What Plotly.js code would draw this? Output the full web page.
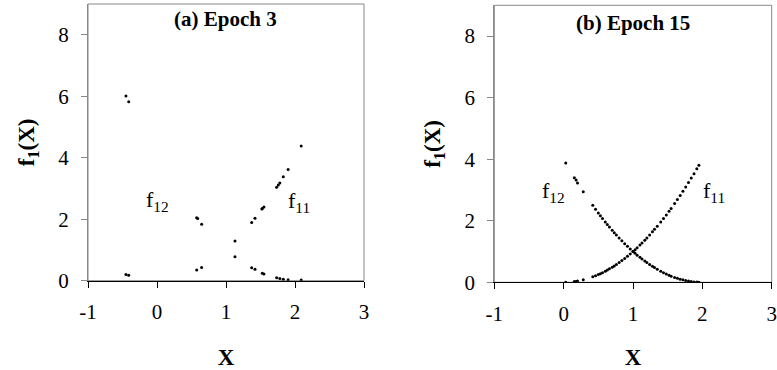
<!DOCTYPE html>
<html>
<head>
<meta charset="utf-8">
<script src="https://cdn.plot.ly/plotly-3.0.1.min.js"></script>
<style>html,body{margin:0;padding:0;background:#fff;}#chart{width:777px;height:370px;}</style>
</head>
<body>
<div id="chart"></div>
<script>
// Panel (a) Epoch 3
const a_x11 = [-0.45, -0.41, 0.575, 0.647, 1.13, 1.372, 1.42, 1.52, 1.526, 1.55, 1.734, 1.758, 1.78, 1.83, 1.90, 2.09];
const a_y11 = [0.20, 0.18, 0.35, 0.43, 0.78, 1.89, 2.03, 2.33, 2.35, 2.40, 3.04, 3.11, 3.18, 3.38, 3.62, 4.38];
const a_x12 = [-0.45, -0.41, 0.575, 0.59, 0.647, 1.13, 1.372, 1.42, 1.526, 1.55, 1.734, 1.78, 1.83, 1.90, 2.09];
const a_y12 = [6.01, 5.82, 2.05, 2.02, 1.84, 1.29, 0.42, 0.37, 0.24, 0.22, 0.10, 0.07, 0.05, 0.03, 0.02];

// Panel (b) Epoch 15
const b_x = [0.03, 0.154, 0.18, 0.20, 0.283, 0.42, 0.46, 0.50, 0.53, 0.56, 0.60, 0.63, 0.66, 0.70, 0.73, 0.76, 0.80, 0.84, 0.88, 0.92, 0.96, 1.00, 1.03, 1.06, 1.10, 1.13, 1.17, 1.20, 1.24, 1.28, 1.31, 1.35, 1.40, 1.44, 1.48, 1.52, 1.55, 1.60, 1.64, 1.68, 1.72, 1.76, 1.80, 1.84, 1.88, 1.92, 1.95];
const b_y11 = [0.00, 0.03, 0.03, 0.04, 0.08, 0.18, 0.21, 0.25, 0.28, 0.31, 0.36, 0.40, 0.44, 0.49, 0.53, 0.58, 0.64, 0.71, 0.77, 0.85, 0.92, 1.00, 1.06, 1.12, 1.21, 1.28, 1.37, 1.44, 1.54, 1.64, 1.72, 1.82, 1.96, 2.07, 2.19, 2.31, 2.40, 2.56, 2.69, 2.82, 2.96, 3.10, 3.24, 3.39, 3.53, 3.69, 3.80];
const b_y12 = [3.88, 3.40, 3.32, 3.23, 2.94, 2.50, 2.37, 2.25, 2.16, 2.07, 1.96, 1.88, 1.80, 1.69, 1.61, 1.54, 1.44, 1.35, 1.25, 1.17, 1.08, 1.00, 0.94, 0.88, 0.81, 0.76, 0.69, 0.64, 0.58, 0.52, 0.48, 0.42, 0.36, 0.31, 0.27, 0.23, 0.20, 0.16, 0.13, 0.10, 0.08, 0.06, 0.04, 0.03, 0.01, 0.01, 0.00];

const xTicks = [-1, 0, 1, 2, 3];
const yTicks = [0, 2, 4, 6, 8];
const panelTitles = ['(a) Epoch 3', '(b) Epoch 15'];
const curveLabels = ['f<sub>12</sub>', 'f<sub>11</sub>'];

const FONT = '"Liberation Serif", serif';
const mk = {color: '#000', size: 3};

const traces = [
  {x: a_x11, y: a_y11, xaxis: 'x', yaxis: 'y', mode: 'markers', marker: mk, name: 'f11'},
  {x: a_x12, y: a_y12, xaxis: 'x', yaxis: 'y', mode: 'markers', marker: mk, name: 'f12'},
  {x: b_x, y: b_y11, xaxis: 'x2', yaxis: 'y2', mode: 'markers', marker: mk, name: 'f11'},
  {x: b_x, y: b_y12, xaxis: 'x2', yaxis: 'y2', mode: 'markers', marker: mk, name: 'f12'}
];

function xax(domain, anchor) {
  return {
    domain: domain, anchor: anchor, range: [-1, 3], tickvals: xTicks, ticktext: xTicks.map(String),
    showgrid: false, zeroline: false, showline: true, linecolor: '#000', linewidth: 1,
    ticks: 'outside', ticklen: 6, tickcolor: '#000', ticklabelstandoff: 6,
    tickfont: {family: FONT, size: 21, color: '#000'},
    title: {text: '<b>X</b>', font: {family: FONT, size: 23, color: '#000'}, standoff: 25}
  };
}
function yax(domain, anchor) {
  return {
    domain: domain, anchor: anchor, range: [0, 9], tickvals: yTicks, ticktext: yTicks.map(String),
    showgrid: false, zeroline: false, showline: true, linecolor: '#888', linewidth: 1,
    ticks: 'outside', ticklen: 6, tickcolor: '#888', ticklabelstandoff: 8,
    tickfont: {family: FONT, size: 21, color: '#000'},
    title: {text: '<b>f<sub>1</sub>(X)</b>', font: {family: FONT, size: 23, color: '#000'}, standoff: 17}
  };
}

const layout = {
  width: 777, height: 370,
  margin: {l: 0, r: 0, t: 0, b: 0},
  font: {family: FONT},
  paper_bgcolor: '#fff', plot_bgcolor: '#fff',
  showlegend: false,
  xaxis: xax([88/777, 364/777], 'y'),
  yaxis: yax([(370-280.7)/370, (370-4)/370], 'x'),
  xaxis2: xax([494.3/777, 771.7/777], 'y2'),
  yaxis2: yax([(370-282.3)/370, (370-5.3)/370], 'x2'),
  shapes: [
    {type: 'rect', xref: 'x domain', yref: 'y domain', x0: 0, x1: 1, y0: 0, y1: 1, line: {color: '#888', width: 1}, layer: 'below'},
    {type: 'rect', xref: 'x2 domain', yref: 'y2 domain', x0: 0, x1: 1, y0: 0, y1: 1, line: {color: '#888', width: 1}, layer: 'below'}
  ],
  annotations: [
    {xref: 'x domain', yref: 'y domain', x: 0.5, y: 0.995, yanchor: 'top', showarrow: false, text: '<b>' + panelTitles[0] + '</b>', font: {family: FONT, size: 21, color: '#000'}},
    {xref: 'x2 domain', yref: 'y2 domain', x: 0.5, y: 0.985, yanchor: 'top', showarrow: false, text: '<b>' + panelTitles[1] + '</b>', font: {family: FONT, size: 21, color: '#000'}},
    {xref: 'x', yref: 'y', x: 0.0, y: 2.6, showarrow: false, text: curveLabels[0], font: {family: FONT, size: 22, color: '#000'}},
    {xref: 'x', yref: 'y', x: 2.06, y: 2.55, showarrow: false, text: curveLabels[1], font: {family: FONT, size: 22, color: '#000'}},
    {xref: 'x2', yref: 'y2', x: -0.15, y: 2.95, showarrow: false, text: curveLabels[0], font: {family: FONT, size: 22, color: '#000'}},
    {xref: 'x2', yref: 'y2', x: 2.17, y: 2.95, showarrow: false, text: curveLabels[1], font: {family: FONT, size: 22, color: '#000'}}
  ]
};

Plotly.newPlot('chart', traces, layout, {displayModeBar: false, staticPlot: true});
</script>
</body>
</html>
